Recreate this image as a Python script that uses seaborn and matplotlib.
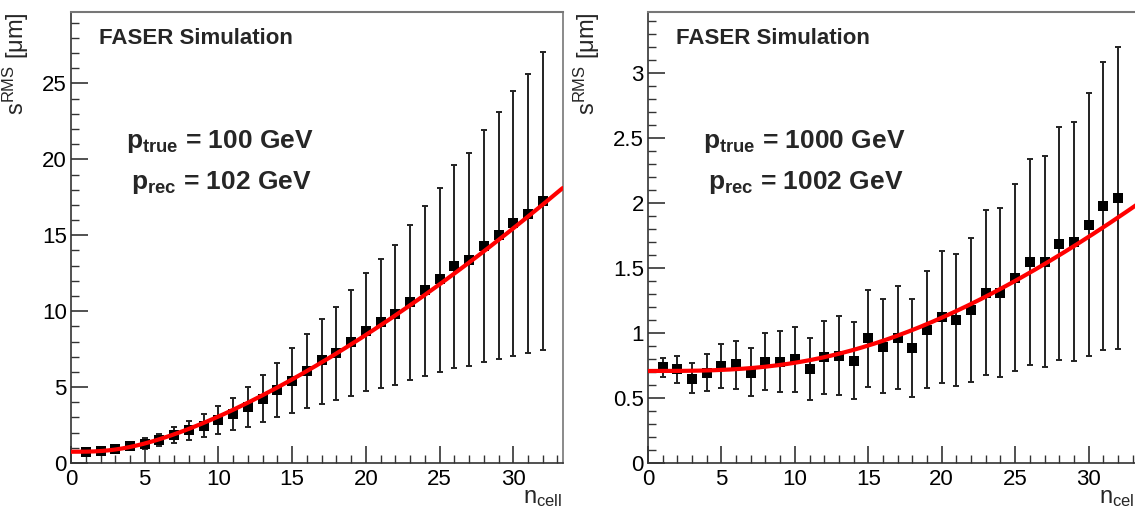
import numpy as np
import matplotlib
matplotlib.use("Agg")
import matplotlib.pyplot as plt
import seaborn as sns
import pandas as pd

# ---------------- data ----------------
n_cell = [1, 2, 3, 4, 5, 6, 7, 8, 9, 10, 11, 12, 13, 14, 15, 16,
          17, 18, 19, 20, 21, 22, 23, 24, 25, 26, 27, 28, 29, 30, 31, 32]

# p_true = 100 GeV
s100 = [0.72, 0.77, 0.94, 1.14, 1.25, 1.53, 1.86, 2.15, 2.45, 2.80, 3.22, 3.68,
        4.23, 4.82, 5.43, 6.04, 6.79, 7.27, 7.99, 8.69, 9.26, 9.79, 10.62, 11.38,
        12.13, 12.98, 13.40, 14.32, 15.04, 15.83, 16.42, 17.23]
s100_hi = [0.85, 0.95, 1.10, 1.35, 1.62, 1.93, 2.34, 2.74, 3.22, 3.77, 4.31, 4.99,
           5.78, 6.61, 7.55, 8.47, 9.46, 10.29, 11.38, 12.52, 13.46, 14.38, 15.65, 16.90,
           18.13, 19.64, 20.42, 21.94, 23.10, 24.47, 25.61, 27.04]
s100_lo = [0.60, 0.62, 0.80, 0.95, 0.90, 1.09, 1.31, 1.49, 1.71, 1.93, 2.15, 2.34,
           2.67, 3.00, 3.28, 3.59, 3.87, 4.16, 4.42, 4.75, 4.97, 5.14, 5.45, 5.74,
           6.02, 6.28, 6.41, 6.68, 6.85, 7.07, 7.22, 7.44]

# p_true = 1000 GeV
s1000 = [0.742, 0.720, 0.647, 0.691, 0.747, 0.760, 0.691, 0.780, 0.780, 0.799, 0.722, 0.814,
         0.827, 0.788, 0.960, 0.896, 0.960, 0.883, 1.024, 1.126, 1.101, 1.177, 1.310, 1.310,
         1.426, 1.543, 1.548, 1.684, 1.702, 1.835, 1.978, 2.040]
s1000_hi = [0.811, 0.824, 0.768, 0.840, 0.914, 0.942, 0.883, 1.003, 1.016, 1.049, 0.965, 1.095,
            1.131, 1.085, 1.331, 1.259, 1.362, 1.262, 1.477, 1.630, 1.607, 1.733, 1.945, 1.963,
            2.145, 2.337, 2.362, 2.585, 2.623, 2.849, 3.084, 3.199]
s1000_lo = [0.660, 0.619, 0.537, 0.555, 0.576, 0.571, 0.512, 0.558, 0.545, 0.543, 0.486, 0.530,
            0.525, 0.494, 0.586, 0.537, 0.568, 0.504, 0.576, 0.619, 0.594, 0.627, 0.678, 0.665,
            0.709, 0.755, 0.742, 0.793, 0.781, 0.824, 0.870, 0.880]

panels = [
    dict(s=s100, hi=s100_hi, lo=s100_lo, ptrue="100", prec="102",
         ylim=29.7, ymin=1, yticks=[0, 5, 10, 15, 20, 25], ylabels=["0", "5", "10", "15", "20", "25"]),
    dict(s=s1000, hi=s1000_hi, lo=s1000_lo, ptrue="1000", prec="1002",
         ylim=3.47, ymin=0.1, yticks=[0, 0.5, 1, 1.5, 2, 2.5, 3],
         ylabels=["0", "0.5", "1", "1.5", "2", "2.5", "3"]),
]
xticks = [0, 5, 10, 15, 20, 25, 30]
xlabels = ["0", "5", "10", "15", "20", "25", "30"]

# ---------------- style ----------------
sns.set_theme(style="white")
plt.rcParams["font.family"] = ["Liberation Sans", "DejaVu Sans"]
plt.rcParams["mathtext.fontset"] = "custom"
plt.rcParams["mathtext.rm"] = "Liberation Sans"
plt.rcParams["mathtext.it"] = "Liberation Sans"
plt.rcParams["mathtext.bf"] = "Liberation Sans:bold"

fig = plt.figure(figsize=(11.35, 5.13), dpi=100)
ax_rects = [[0.0626, 0.0975, 0.4331, 0.879],
            [0.5709, 0.0975, 0.4316, 0.879]]

frame_col = "#333333"
xmax = 33.35

for rect, p in zip(ax_rects, panels):
    ax = fig.add_axes(rect)
    x = np.array(n_cell, dtype=float)
    s = np.array(p["s"])
    hi = np.array(p["hi"])
    lo = np.array(p["lo"])

    # fit s^2 = A + B n^3 (least squares on the data)
    sig = (hi - lo) / 2.0
    w = 1.0 / (np.sqrt(s) * sig)
    M = np.vstack([np.ones_like(x), x ** 3]).T
    coef, *_ = np.linalg.lstsq(M * w[:, None], (s ** 2) * w, rcond=None)
    xf = np.linspace(0, xmax, 300)
    yf = np.sqrt(np.clip(coef[0] + coef[1] * xf ** 3, 0, None))

    ax.errorbar(x, s, yerr=[s - lo, hi - s], fmt="none", ecolor="#222222",
                elinewidth=1.4, capsize=2.5, capthick=1.4, zorder=2)
    df = pd.DataFrame({"n": x, "s": s})
    sns.scatterplot(data=df, x="n", y="s", marker="s", s=42, color="black",
                    edgecolor="black", linewidth=0, ax=ax, zorder=3)
    dff = pd.DataFrame({"n": xf, "s": yf})
    sns.lineplot(data=dff, x="n", y="s", color="#ff0000", linewidth=3.0, ax=ax,
                 zorder=4)

    ax.set_xlim(0, xmax)
    ax.set_ylim(0, p["ylim"])
    ax.set_xticks(xticks)
    ax.set_xticklabels(xlabels)
    ax.set_xticks(np.arange(0, 34, 1), minor=True)
    ax.set_yticks(p["yticks"])
    ax.set_yticklabels(p["ylabels"])
    ax.yaxis.set_minor_locator(matplotlib.ticker.MultipleLocator(p["ymin"]))

    ax.tick_params(axis="both", which="major", direction="in", length=12,
                   width=1.2, color=frame_col, labelsize=16, labelcolor="black",
                   bottom=True, left=True, top=False, right=False)
    ax.tick_params(axis="both", which="minor", direction="in", length=6,
                   width=1.0, color=frame_col, bottom=True, left=True,
                   top=False, right=False)
    ax.tick_params(axis="x", which="major", pad=4)
    ax.tick_params(axis="y", which="major", pad=3)

    for sp in ax.spines.values():
        sp.set_color(frame_col)
        sp.set_linewidth(1.2)
        sp.set_visible(True)
    ax.spines["top"].set_color("#777777")
    ax.spines["right"].set_color("#777777")
    ax.spines["top"].set_linewidth(1.5)

    ax.set_xlabel(r"n$_{\mathrm{cell}}$", loc="right", fontsize=17, labelpad=-2)
    ax.set_ylabel(r"s$^{\mathrm{RMS}}$ [$\mathrm{\mu}$m]", loc="top", fontsize=17,
                  labelpad=8)
    ax.grid(False)

    ax.text(0.057, 0.942, "FASER Simulation", transform=ax.transAxes,
            fontsize=16, fontweight="bold", va="center", ha="left")
    ax.text(0.112, 0.699, r"$\mathbf{p}_{\mathbf{true}}$ = " + p["ptrue"] + " GeV",
            transform=ax.transAxes, fontsize=19, fontweight="bold",
            va="baseline", ha="left")
    ax.text(0.122, 0.607, r"$\mathbf{p}_{\mathbf{rec}}$ = " + p["prec"] + " GeV",
            transform=ax.transAxes, fontsize=19, fontweight="bold",
            va="baseline", ha="left")

fig.savefig("out.png", dpi=100, facecolor="white")
